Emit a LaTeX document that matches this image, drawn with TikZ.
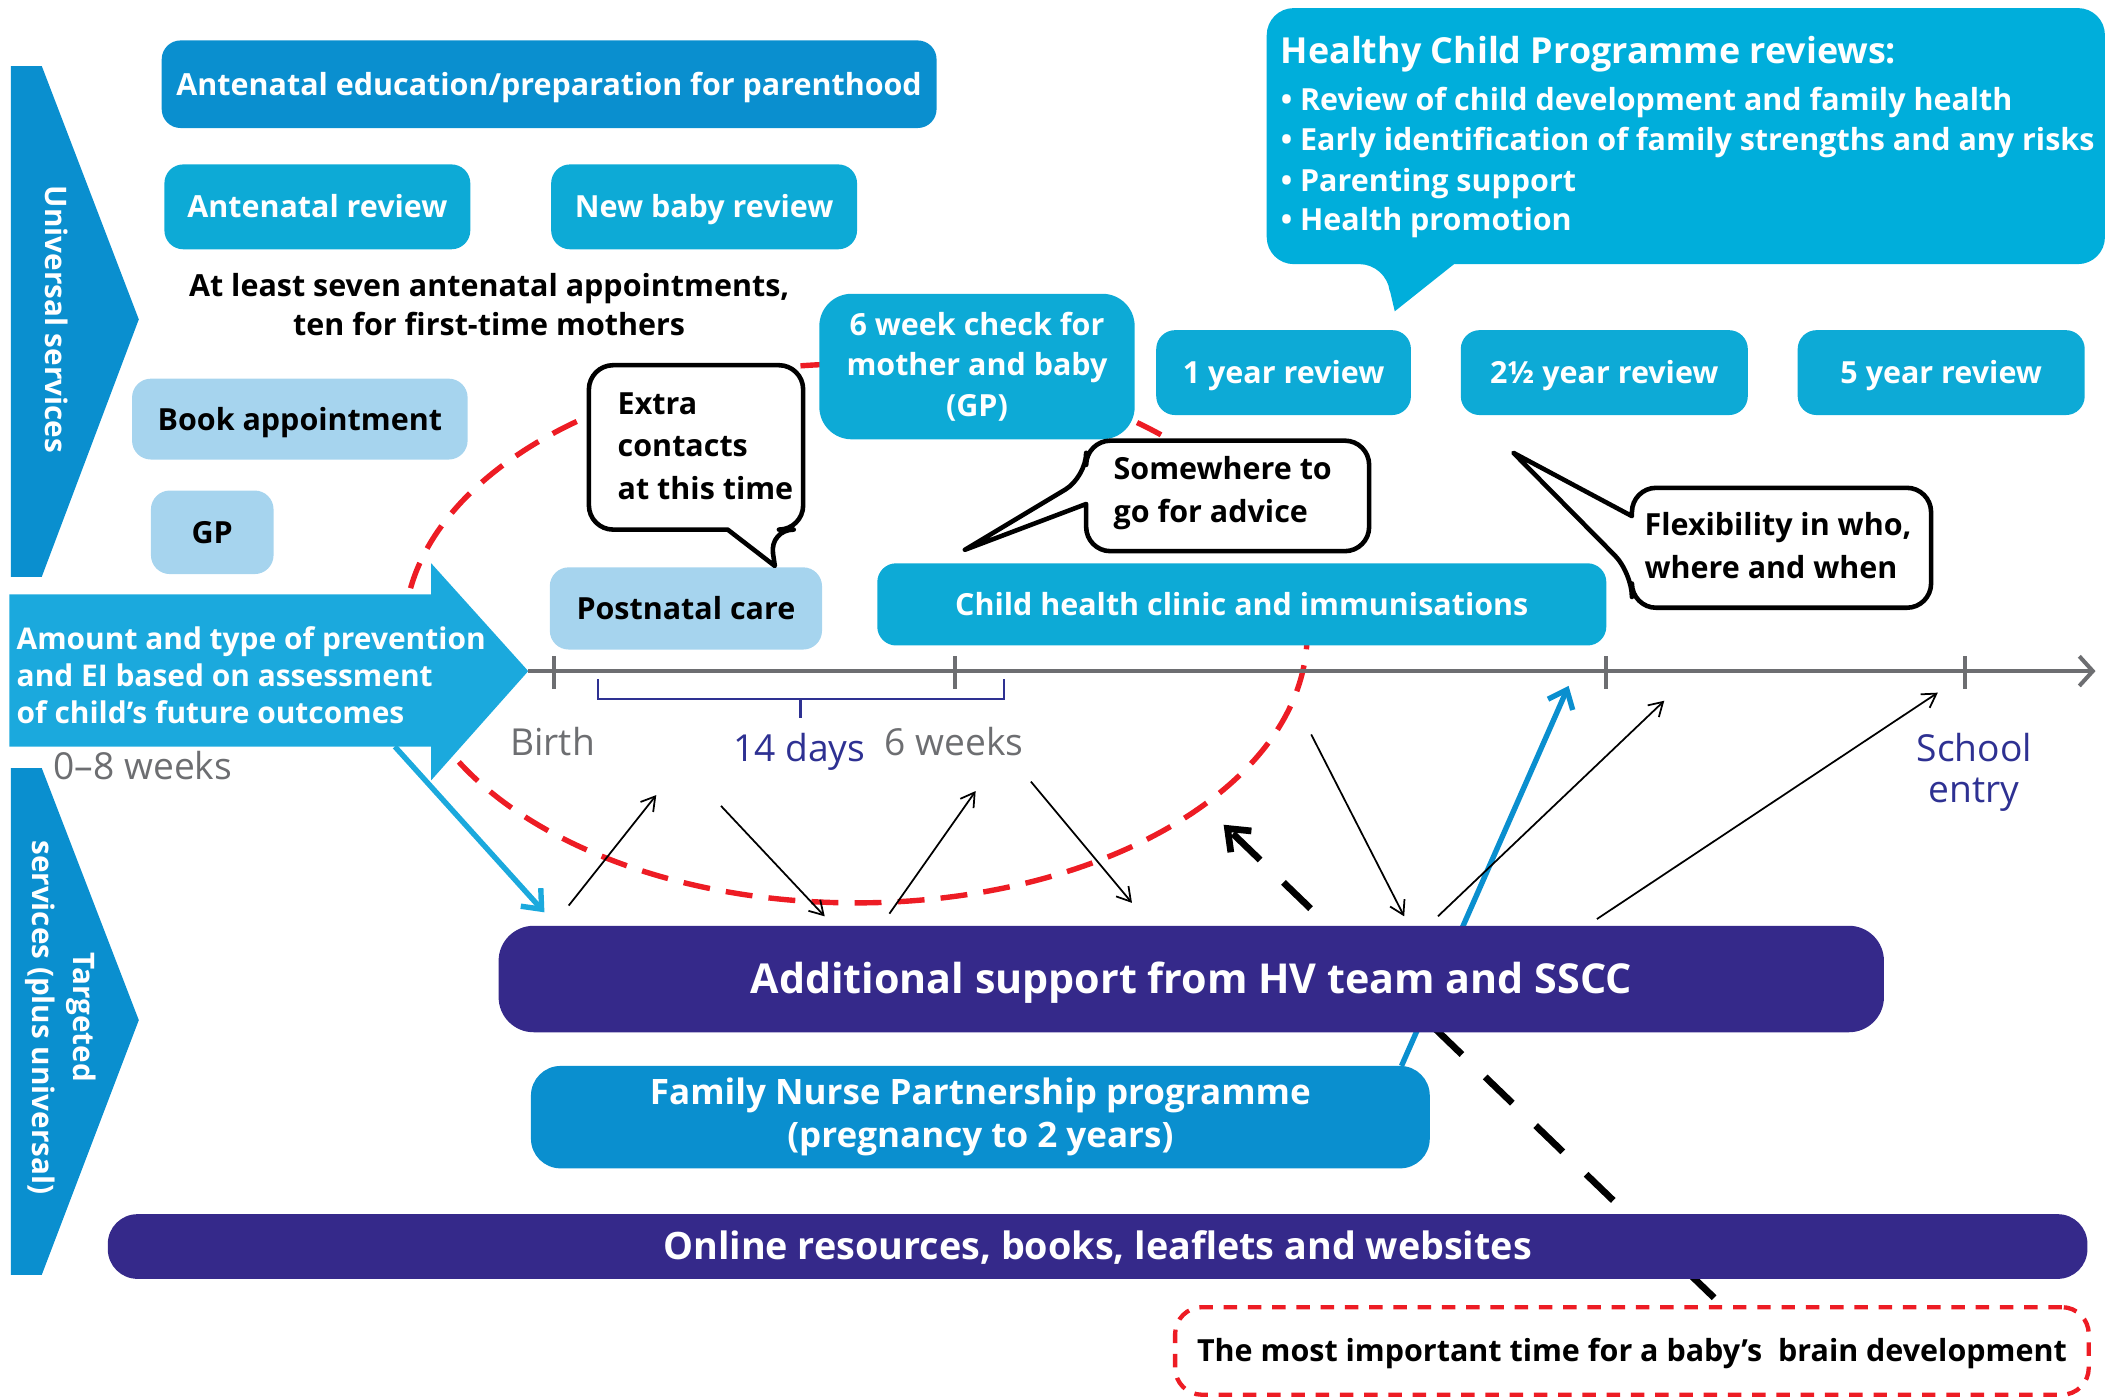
\documentclass[tikz,border=0pt]{standalone}
\usepackage{fontspec}
\setmainfont{Open Sans}
\usetikzlibrary{arrows.meta}
\definecolor{ublue}{HTML}{0A8FCF}
\definecolor{cyanb}{HTML}{0DAAD6}
\definecolor{hcpc}{HTML}{00AEDB}
\definecolor{midarrow}{HTML}{1BA9DD}
\definecolor{lboxc}{HTML}{A6D4EE}
\definecolor{purp}{HTML}{35298A}
\definecolor{axisgrey}{HTML}{6D6E71}
\definecolor{navyb}{HTML}{2E3192}
\definecolor{redd}{HTML}{ED1C24}
\newcommand\fsz[2]{\fontsize{#1}{#2}\selectfont}
\begin{document}
\begin{tikzpicture}[x=0.5pt,y=-0.5pt,
  pos/.style n args={4}{minimum width={(#3-#1)*0.5pt},minimum height={(#4-#2)*0.5pt},at={({(#1+#3)/2},{(#2+#4)/2})}},
  box/.style={inner sep=0pt,outer sep=0pt,rounded corners=7pt,text=white,align=center,font=\fsz{11.3}{15}\bfseries},
  sl/.style={text height=10pt,text depth=1.9pt},
  lbox/.style={box,fill=lboxc,text=black},
  bubble/.style={draw=black,fill=white,line width=1.7pt,line join=round},
  btext/.style={anchor=west,align=left,inner sep=0pt,font=\fsz{11.3}{15.75}\bfseries},
  hcpline/.style={anchor=base west,text=white,inner sep=0pt,font=\fsz{11.3}{15}\bfseries},
  thinarrow/.style={draw=black,line width=0.65pt,-{Straight Barb[length=5pt,width=6pt]}},
  bigarrow/.style={line width=2pt,-{Straight Barb[length=6pt,width=10pt]}},
  greylab/.style={text=axisgrey,inner sep=0pt,font=\fsz{13.8}{15}},
  navylab/.style={text=navyb,inner sep=0pt,align=center,font=\fsz{13.8}{15}},
  tick/.style={draw=axisgrey,line width=1.5pt}
]
\useasboundingbox (0,0) rectangle (1568,1038);

% red dashed ellipse
\draw[redd,line width=2pt,dash pattern=on 10pt off 6pt] (635,470) ellipse [x radius=167.5pt,y radius=100pt];

% black dashed arrow and blue arrow (behind boxes)
\coordinate (dashS) at (1272,963);
\coordinate (dashE) at (908,612);
\draw[bigarrow,line width=2.5pt,dash pattern=on 14pt off 12pt,-{Straight Barb[length=7pt,width=11pt]}] (dashS) -- (dashE);
\coordinate (fnpS) at (1040,791);
\coordinate (fnpE) at (1164,509);
\draw[bigarrow,draw=ublue] (fnpS) -- (fnpE);

% left arrows
\fill[ublue] (8,49) -- (31,49) -- (103,237) -- (31,428) -- (8,428) -- cycle;
\node[rotate=-90,text=white,inner sep=0pt,font=\fsz{11}{15}\bfseries] (univ) at (42,237) {Universal services};
\fill[ublue] (8,570) -- (31,570) -- (103,757) -- (31,946) -- (8,946) -- cycle;
\node[rotate=-90,text=white,inner sep=0pt,align=center,font=\fsz{11}{15}\bfseries] (targ) at (45,755) {Targeted\\services (plus universal)};
\fill[midarrow] (7,441) -- (320,441) -- (320,418) -- (392,498) -- (320,579) -- (320,554) -- (7,554) -- cycle;
\node[anchor=west,align=left,text=white,inner sep=0pt,font=\fsz{11.1}{13.75}\bfseries] (amount) at (12,501) {Amount and type of prevention\\and EI based on assessment\\of child’s future outcomes};
\node[greylab] (zeroeight) at (106,568) {0–8 weeks};

% boxes
\node[box,sl,fill=ublue,pos={120}{30}{695}{95}] (aed) {Antenatal education/preparation for parenthood};
\node[box,sl,fill=cyanb,pos={122}{122}{349}{185}] (antrev) {Antenatal review};
\node[box,sl,fill=cyanb,pos={409}{122}{636}{185}] (newbaby) {New baby review};
\node[align=center,inner sep=0pt,font=\fsz{11.3}{14.5}\bfseries] (seven) at (363,226) {At least seven antenatal appointments,\\ten for first-time mothers};
\node[lbox,sl,pos={98}{281}{347}{341}] (book) {Book appointment};
\node[lbox,sl,pos={112}{364}{203}{426}] (gp) {GP};
\node[lbox,sl,pos={408}{421}{610}{482}] (postnatal) {Postnatal care};
\node[box,fill=cyanb,rounded corners=12pt,pos={608}{218}{842}{326}] (sixweek) {6 week check for\\mother and baby\\(GP)};
\node[box,sl,fill=cyanb,pos={858}{245}{1047}{308}] (oneyear) {1 year review};
\node[box,sl,fill=cyanb,pos={1084}{245}{1297}{308}] (twohalf) {2½ year review};
\node[box,sl,fill=cyanb,pos={1334}{245}{1547}{308}] (fiveyear) {5 year review};
\node[box,sl,fill=cyanb,pos={651}{418}{1192}{479}] (clinic) {Child health clinic and immunisations};
\node[box,fill=purp,rounded corners=13pt,font=\fsz{15.3}{18}\bfseries,text height=13.5pt,text depth=2.6pt,pos={370}{687}{1398}{766}] (hv) {Additional support from HV team and SSCC};
\node[box,fill=ublue,rounded corners=11pt,font=\fsz{13}{16}\bfseries,pos={394}{791}{1061}{867}] (fnp) {Family Nurse Partnership programme\\(pregnancy to 2 years)};
\node[box,fill=purp,rounded corners=11pt,font=\fsz{14}{16}\bfseries,text height=12.4pt,text depth=2.4pt,pos={80}{901}{1549}{949}] (online) {Online resources, books, leaflets and websites};
\node[box,sl,draw=redd,line width=1.6pt,dash pattern=on 5pt off 4pt,rounded corners=10pt,text=black,pos={872}{970}{1550}{1035}] (brain) {The most important time for a baby’s\ \ brain development};

% Healthy Child Programme callout
\fill[hcpc,rounded corners=10pt] (1079,196) -- (1562,196) -- (1562,6) -- (940,6) -- (940,196) -- (1029,196) [sharp corners] -- (1031,214) -- (1035,231) -- cycle;
\node[anchor=base west,text=white,inner sep=0pt,font=\fsz{13.3}{15}\bfseries] (hcptitle) at (950,47) {Healthy Child Programme reviews:};
\node[hcpline] (hcp1) at (950,82) {• Review of child development and family health};
\node[hcpline] (hcp2) at (950,112) {• Early identification of family strengths and any risks};
\node[hcpline] (hcp3) at (950,142) {• Parenting support};
\node[hcpline] (hcp4) at (950,171) {• Health promotion};

% speech bubbles
\draw[bubble] (540,393) [rounded corners=9pt] -- (437,393) -- (437,271) -- (596,271) -- (596,393) -- (571,393) [sharp corners] -- (575,420) -- cycle;
\node[btext] (extra) at (458,331) {Extra\\contacts\\at this time};
\draw[bubble] (806,374) [rounded corners=9pt] -- (806,409) -- (1016,409) -- (1016,327) -- (806,327) -- (806,354) [sharp corners] -- (716,408) -- cycle;
\node[btext] (advice) at (826,366) {Somewhere to\\go for advice};
\draw[bubble] (1211,383) [rounded corners=9pt] -- (1211,362) -- (1433,362) -- (1433,451) -- (1211,451) -- (1211,425) [sharp corners] -- (1123,336) -- cycle;
\node[btext] (flex) at (1220,405) {Flexibility in who,\\where and when};

% timeline
\coordinate (ax0) at (392,498);
\coordinate (ax1) at (1553,498);
\draw[axisgrey,line width=1.5pt] (ax0) -- (ax1);
\draw[axisgrey,line width=1.5pt,line join=miter] (1543,487) -- (ax1) -- (1543,509);
\foreach \tx in {411,709,1192,1458} \draw[tick] (\tx,487) -- (\tx,511);
\draw[navyb,line width=0.8pt] (444,504) -- (444,519) -- (745,519) -- (745,504);
\draw[navyb,line width=0.8pt] (594,519) -- (594,533);
\node[greylab] (birth) at (410,550) {Birth};
\node[navylab] (days) at (593,558) {14 days};
\node[greylab] (sixw) at (708,550) {6 weeks};
\node[navylab] (school) at (1465,573) {School\\entry};

% thin arrows
\coordinate (a1s) at (422,672); \coordinate (a1e) at (487,590);
\coordinate (a2s) at (535,598); \coordinate (a2e) at (612,680);
\coordinate (a3s) at (660,678); \coordinate (a3e) at (724,587);
\coordinate (a4s) at (765,580); \coordinate (a4e) at (840,670);
\coordinate (a5s) at (973,545); \coordinate (a5e) at (1042,680);
\coordinate (a6s) at (1067,680); \coordinate (a6e) at (1235,520);
\coordinate (a7s) at (1185,682); \coordinate (a7e) at (1438,514);
\foreach \i in {1,...,7} \draw[thinarrow] (a\i s) -- (a\i e);

% blue arrow from middle arrow
\coordinate (midS) at (293,554);
\coordinate (midE) at (404,677);
\draw[bigarrow,draw=midarrow] (midS) -- (midE);
\end{tikzpicture}
\end{document}
